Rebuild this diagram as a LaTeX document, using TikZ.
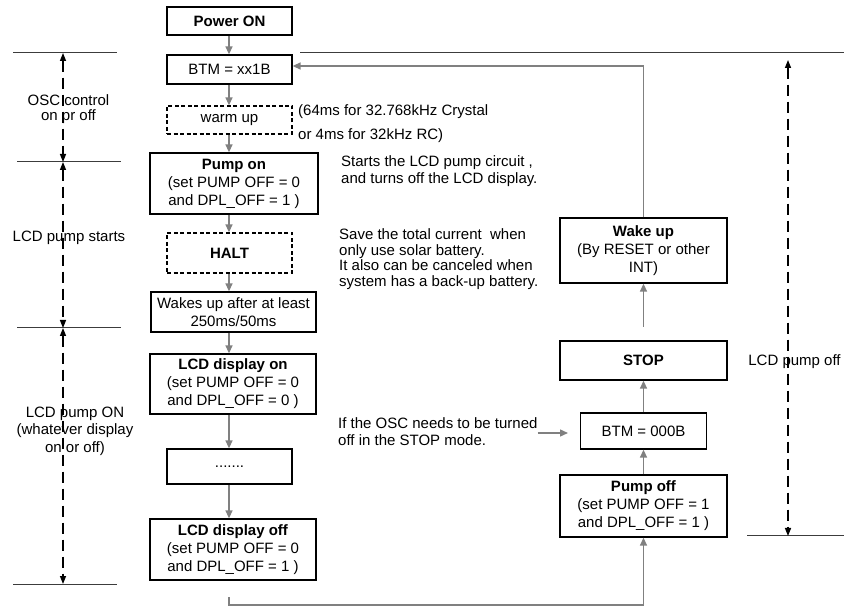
\documentclass[tikz,border=0pt]{standalone}
\usepackage{fontspec}
\setmainfont{Liberation Sans}
\usetikzlibrary{arrows.meta,calc}
\definecolor{cgray}{RGB}{128,128,128}
\definecolor{lgray}{RGB}{60,60,60}
\begin{document}
\begin{tikzpicture}[x=1pt,y=-1pt,
  every node/.style={font=\fontsize{15}{18}\selectfont},
  box/.style={draw, line width=1.3pt, inner sep=0pt, align=center},
  dbox/.style={box, dash pattern=on 4pt off 2.5pt},
  flow/.style={draw=cgray, line width=1.4pt, -{Triangle[length=8pt,width=7pt]}},
  span/.style={black, line width=1.4pt, dash pattern=on 11pt off 6pt,
    {Triangle[length=8pt,width=6pt]}-{Triangle[length=8pt,width=6pt]}},
  rule/.style={lgray, line width=1pt},
  note/.style={align=left, inner sep=0pt, anchor=west},
  lbl/.style={align=center, inner sep=0pt}]
\useasboundingbox (0,0) rectangle (844,609);

% left column
\node[box, minimum width=125pt, minimum height=28pt] (pwr) at (229.5,21) {\textbf{Power ON}};
\node[box, minimum width=125pt, minimum height=29pt] (btm1) at (229.5,69.5) {BTM = xx1B};
\node[dbox, minimum width=125pt, minimum height=28pt] (warm) at (229.5,120) {warm up};
\node[box, minimum width=168pt, minimum height=61pt] (pumpon) at (234,183.5)
  {\textbf{Pump on}\\(set PUMP OFF = 0\\and DPL\_OFF = 1 )};
\node[dbox, minimum width=125pt, minimum height=40pt] (halt) at (229.5,253) {\textbf{HALT}};
\node[box, minimum width=165pt, minimum height=40pt] (wakes) at (233.5,312)
  {Wakes up after at least\\250ms/50ms};
\node[box, minimum width=166pt, minimum height=60pt] (lcdon) at (233,384)
  {\textbf{LCD display on}\\(set PUMP OFF = 0\\and DPL\_OFF = 0 )};
\node[box, minimum width=125pt, minimum height=35pt] (dots) at (229.5,466.5) {.......};
\node[box, minimum width=166pt, minimum height=61pt] (lcdoff) at (233,549.5)
  {\textbf{LCD display off}\\(set PUMP OFF = 0\\and DPL\_OFF = 1 )};

% right column
\node[box, minimum width=167pt, minimum height=65pt] (wakeup) at (643.5,250.5)
  {\textbf{Wake up}\\(By RESET or other\\INT)};
\node[box, minimum width=167pt, minimum height=39pt] (stop) at (643.5,360.5) {\textbf{STOP}};
\node[box, minimum width=126pt, minimum height=36pt] (btm0) at (643.5,431) {BTM = 000B};
\node[box, minimum width=167pt, minimum height=62pt] (pumpoff) at (643.5,506)
  {\textbf{Pump off}\\(set PUMP OFF = 1\\and DPL\_OFF = 1 )};

% connectors
\coordinate (colL) at (229,0);
\draw[flow] (pwr.south -| colL) -- (btm1.north -| colL);
\draw[flow] (btm1.south -| colL) -- (warm.north -| colL);
\draw[flow] (warm.south -| colL) -- (pumpon.north -| colL);
\draw[flow] (pumpon.south -| colL) -- (halt.north -| colL);
\draw[flow] (halt.south -| colL) -- (wakes.north -| colL);
\draw[flow] (wakes.south -| colL) -- (lcdon.north -| colL);
\draw[flow] (lcdon.south -| colL) -- (dots.north -| colL);
\draw[flow] (dots.south -| colL) -- (lcdoff.north -| colL);
\coordinate (loopstart) at (229,597);
\coordinate (loopcorner) at (229,605);
\draw[flow] (loopstart) -- (loopcorner) -| (pumpoff.south);
\draw[flow] (pumpoff.north) -- (btm0.south -| pumpoff.north);
\draw[flow] (btm0.north -| stop.south) -- (stop.south);
\coordinate (wakestart) at (643.5,327);
\draw[flow] (wakestart) -- (wakeup.south);
\coordinate (fb) at (0,66);
\draw[flow] (wakeup.north) |- (fb -| btm1.east);

% notes
\node[note, font=\fontsize{15}{24}\selectfont] (crystal) at (298,124)
  {(64ms for 32.768kHz Crystal\\or 4ms for 32kHz RC)};
\node[note, font=\fontsize{15}{17}\selectfont] (starts) at (341,171.5)
  {Starts the LCD pump circuit ,\\and turns off the LCD display.};
\node[note, font=\fontsize{15}{15.7}\selectfont] (save) at (339,259)
  {Save the total current\ \ when\\only use solar battery.\\It also can be canceled when\\system has a back-up battery.};
\node[note, font=\fontsize{15}{17}\selectfont] (osctxt) at (338,432)
  {If the OSC needs to be turned\\off in the STOP mode.};
\coordinate (oscend) at (568,433);
\draw[flow] (osctxt.east |- oscend) -- (oscend);

% left spans
\draw[rule] (13,53) -- (117,53);
\draw[rule] (17,162) -- (121,162);
\draw[rule] (17,328) -- (121,328);
\draw[rule] (13,584) -- (117,584);
\coordinate (s1) at (63,53);
\coordinate (s2) at (63,162);
\coordinate (s3) at (63,328);
\coordinate (s4) at (63,584);
\node[lbl, font=\fontsize{15}{15.5}\selectfont] (osclbl) at (68.5,109) {OSC control\\on pr off};
\node[lbl] (startlbl) at (69,238) {LCD pump starts};
\node[lbl, font=\fontsize{15}{17.5}\selectfont] (onlbl) at (75,431)
  {LCD pump ON\\(whatever display\\on or off)};
\draw[span] (s1) -- (s2);
\draw[span] (s2) -- (s3);
\draw[span] (s3) -- (s4);

% right span
\draw[rule] (300,53) -- (844,53);
\draw[rule] (747,536) -- (844,536);
\coordinate (t1) at (788,60);
\coordinate (t2) at (788,536);
\node[lbl] (offlbl) at (794.5,362) {LCD pump off};
\draw[span] (t1) -- (t2);
\end{tikzpicture}
\end{document}
